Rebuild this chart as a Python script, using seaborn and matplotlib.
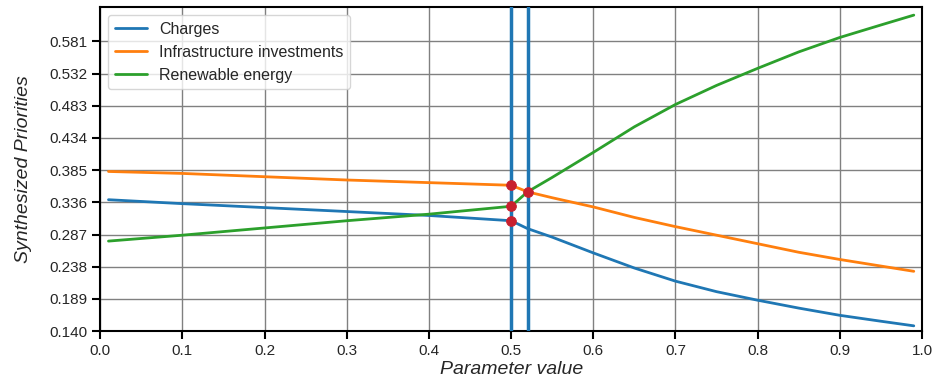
import pandas as pd
import seaborn as sns
import matplotlib.pyplot as plt

# Data
x_vals = [0.01, 0.1, 0.2, 0.3, 0.4, 0.5, 0.52, 0.55, 0.6, 0.65, 0.7, 0.75, 0.8, 0.85, 0.9, 0.95, 0.99]
charges = [0.340, 0.334, 0.328, 0.322, 0.316, 0.308, 0.296, 0.283, 0.259, 0.236, 0.216, 0.200, 0.187, 0.175, 0.164, 0.155, 0.148]
infrastructure = [0.383, 0.380, 0.375, 0.370, 0.366, 0.362, 0.352, 0.343, 0.329, 0.313, 0.299, 0.286, 0.273, 0.260, 0.249, 0.239, 0.231]
renewable = [0.277, 0.286, 0.297, 0.308, 0.318, 0.330, 0.352, 0.374, 0.412, 0.451, 0.485, 0.514, 0.540, 0.565, 0.587, 0.606, 0.621]
series_names = ["Charges", "Infrastructure investments", "Renewable energy"]

vlines = [0.5, 0.52]
marker_x = [0.5, 0.5, 0.5, 0.52]
marker_y = [0.308, 0.362, 0.330, 0.352]

y_ticks = [0.140, 0.189, 0.238, 0.287, 0.336, 0.385, 0.434, 0.483, 0.532, 0.581]
x_ticks = [0.0, 0.1, 0.2, 0.3, 0.4, 0.5, 0.6, 0.7, 0.8, 0.9, 1.0]

df = pd.DataFrame({
    "x": x_vals * 3,
    "value": charges + infrastructure + renewable,
    "series": [series_names[0]] * len(x_vals) + [series_names[1]] * len(x_vals) + [series_names[2]] * len(x_vals),
})

sns.set_theme(style="ticks")
plt.rcParams["font.family"] = ["Liberation Sans", "DejaVu Sans"]

fig, ax = plt.subplots(figsize=(9.37, 3.81), dpi=100)
fig.subplots_adjust(left=0.107, right=0.984, top=0.981, bottom=0.131)

sns.lineplot(data=df, x="x", y="value", hue="series", palette=["#1f77b4", "#ff7f0e", "#2ca02c"],
             linewidth=2, ax=ax)

for v in vlines:
    ax.axvline(v, color="#1f77b4", linewidth=2.5, zorder=3)

sns.scatterplot(x=marker_x, y=marker_y, color="#c8202e", s=50, edgecolor="#c8202e", zorder=5, ax=ax, legend=False)

ax.set_xlim(0, 1)
ax.set_ylim(0.140, 0.633)
ax.set_xticks(x_ticks)
ax.set_xticklabels([f"{t:.1f}" for t in x_ticks])
ax.set_yticks(y_ticks)
ax.set_yticklabels([f"{t:.3f}" for t in y_ticks])
ax.tick_params(axis="both", labelsize=11, length=6, width=1.5, color="black")

ax.grid(True, color="gray", linewidth=1)
for sp in ax.spines.values():
    sp.set_color("black")
    sp.set_linewidth(1.5)

ax.set_xlabel("Parameter value", fontsize=14, style="italic", labelpad=2)
ax.set_ylabel("Synthesized Priorities", fontsize=14, style="italic", labelpad=12)

leg = ax.legend(loc="upper left", fontsize=11.5, frameon=True, framealpha=0.8)
leg.set_title(None)

fig.savefig("out.png", dpi=100)
